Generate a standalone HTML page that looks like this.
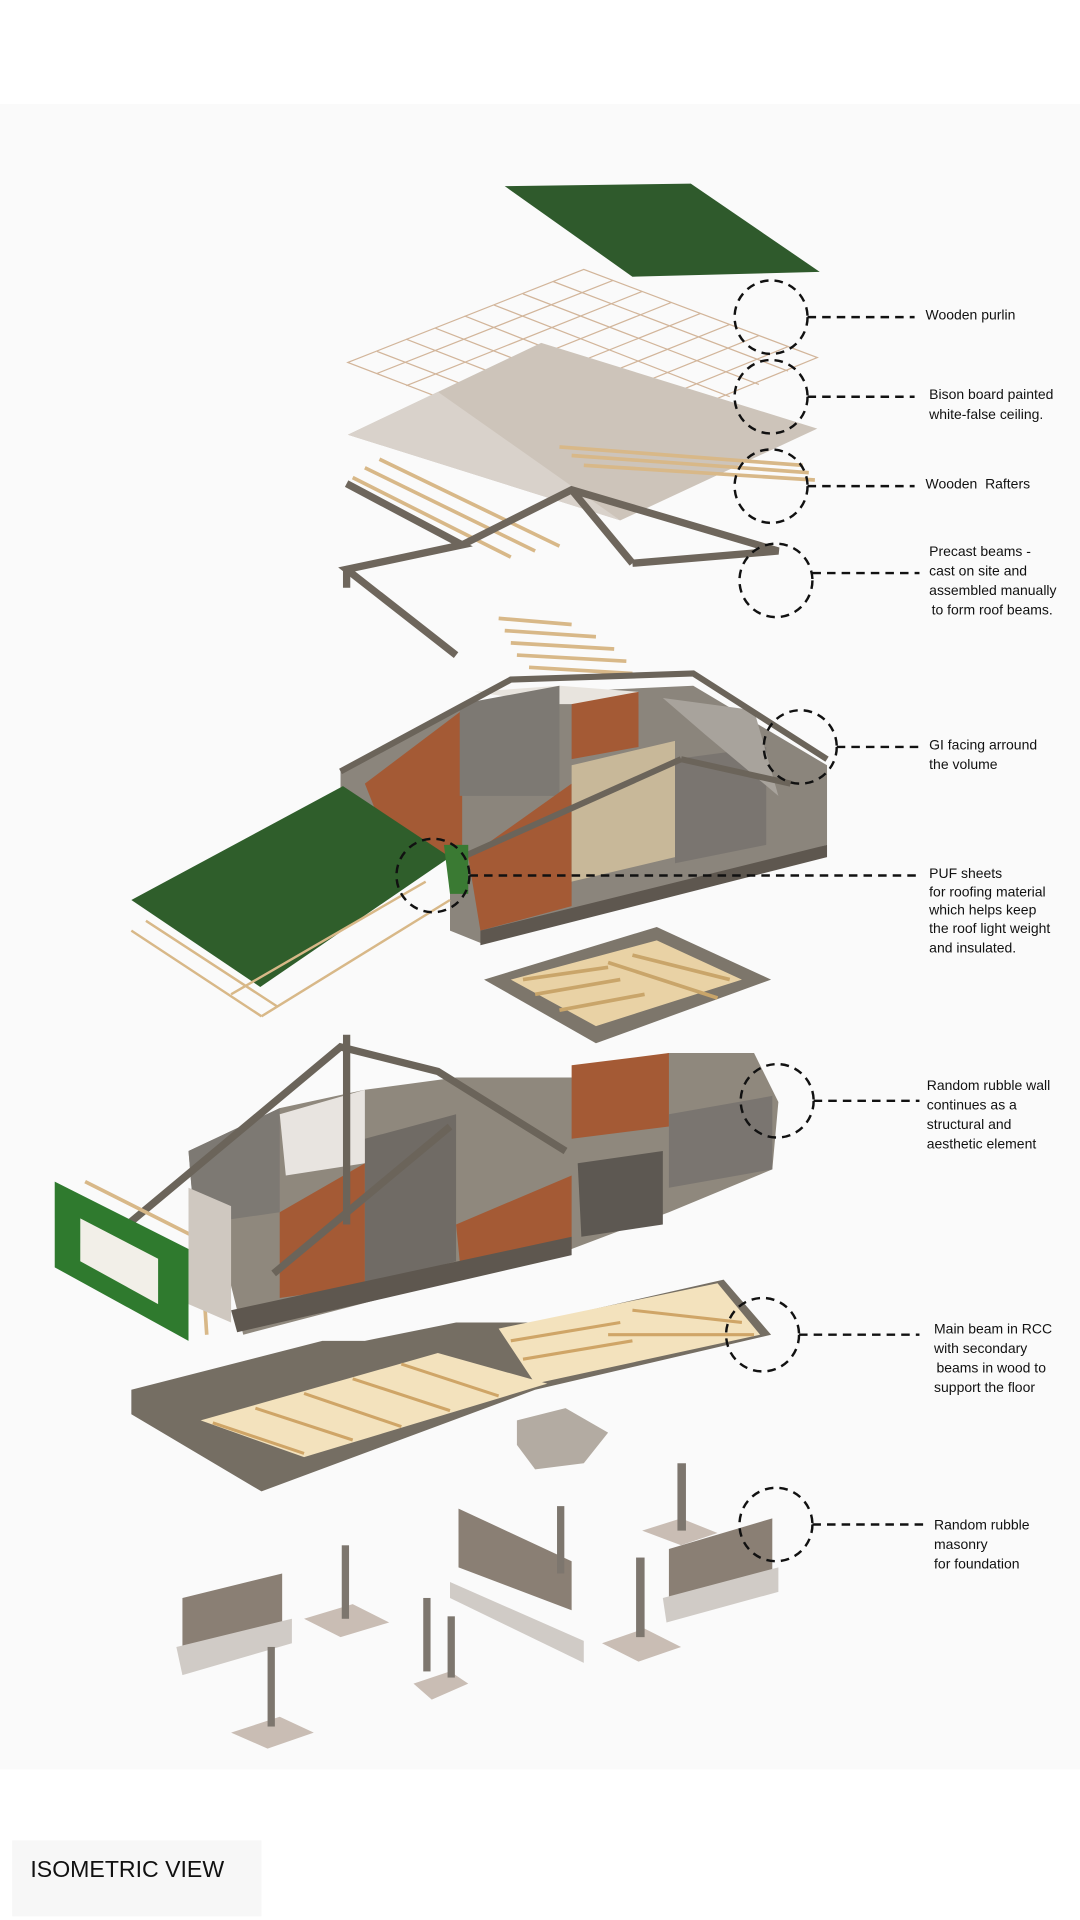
<!DOCTYPE html>
<html><head><meta charset="utf-8"><style>
html,body{margin:0;padding:0;background:#fff}
svg{display:block}
text{font-family:"Liberation Sans",Arial,sans-serif;fill:#111}
</style></head><body>
<svg width="1080" height="1920" viewBox="0 0 888 1568" preserveAspectRatio="none" xmlns="http://www.w3.org/2000/svg">
<rect x="0" y="0" width="888" height="1568" fill="#fff"/>
<rect x="0" y="85" width="888" height="1360" fill="#fafafa"/>
<rect x="10" y="1503" width="205" height="62" fill="#f7f7f7"/>

<!-- green roof -->
<polygon points="415,152 568,150 674,222 520,226" fill="#2f5a2c"/>
<!-- purlin grid -->
<g stroke="#d2b59a" stroke-width="1" fill="none">
<polygon points="286,296 480,220 672,292 480,370"/>
<line x1="310" y1="287" x2="504" y2="361"/><line x1="334" y1="277" x2="528" y2="352"/><line x1="358" y1="268" x2="552" y2="343"/><line x1="382" y1="258" x2="576" y2="334"/><line x1="406" y1="249" x2="600" y2="324"/><line x1="430" y1="240" x2="624" y2="314"/><line x1="455" y1="230" x2="648" y2="303"/>
<line x1="310" y1="305" x2="504" y2="229"/><line x1="334" y1="315" x2="528" y2="238"/><line x1="358" y1="324" x2="552" y2="247"/><line x1="382" y1="333" x2="576" y2="256"/><line x1="406" y1="342" x2="600" y2="265"/><line x1="430" y1="352" x2="624" y2="274"/><line x1="455" y1="361" x2="648" y2="283"/>
</g>
<!-- bison board -->
<polygon points="286,355 445,280 672,350 510,425" fill="#cdc4ba"/>
<polygon points="286,355 360,320 510,425" fill="#d9d2cb"/>
<!-- rafters -->
<g stroke="#d8b888" stroke-width="3">
<line x1="290" y1="390" x2="420" y2="455"/><line x1="300" y1="382" x2="440" y2="450"/><line x1="312" y1="375" x2="460" y2="446"/>
<line x1="460" y1="365" x2="660" y2="380"/><line x1="470" y1="372" x2="665" y2="386"/><line x1="480" y1="380" x2="670" y2="392"/>
<line x1="410" y1="505" x2="470" y2="510"/><line x1="415" y1="515" x2="490" y2="520"/><line x1="420" y1="525" x2="505" y2="530"/><line x1="425" y1="535" x2="515" y2="540"/><line x1="435" y1="545" x2="520" y2="550"/>
</g>
<!-- precast beams -->
<g stroke="#6e665c" stroke-width="6" fill="none">
<polyline points="285,395 380,445 285,465 375,535"/>
<line x1="285" y1="465" x2="285" y2="480"/>
<polyline points="380,445 470,400 640,450 520,460"/>
<line x1="470" y1="400" x2="520" y2="460"/>
</g>
<!-- middle building -->
<polygon points="280,630 375,580 460,565 570,560 680,625 680,690 395,770 370,760 370,700 280,660" fill="#8b857c"/>
<polygon points="390,565 460,560 525,565 525,575 460,575" fill="#e8e4de"/>
<polygon points="300,640 380,580 380,700 320,690" fill="#a45a35"/>
<polygon points="378,575 460,560 460,650 378,650" fill="#7d7973"/>
<polygon points="385,700 470,640 470,740 395,760" fill="#a45a35"/>
<polygon points="470,575 525,565 525,610 470,620" fill="#a45a35"/>
<polygon points="470,625 555,605 555,700 470,720" fill="#c8b899"/>
<polygon points="555,620 630,610 630,690 555,705" fill="#7a7570"/>
<polygon points="545,570 620,580 640,650 580,600" fill="#a8a39c"/>
<polygon points="395,760 680,690 680,700 395,772" fill="#5e574f"/>
<g stroke="#6b645a" stroke-width="5" fill="none">
<polyline points="280,630 420,555 570,550 680,620"/>
<line x1="380" y1="700" x2="560" y2="620"/><line x1="560" y1="620" x2="650" y2="640"/>
</g>
<!-- PUF sheet -->
<polygon points="108,735 282,642 370,700 214,806" fill="#2f5e2b"/>
<polygon points="365,690 385,690 385,730 370,730" fill="#3a7a33"/>
<g stroke="#d8b888" stroke-width="2">
<line x1="108" y1="760" x2="215" y2="830"/><line x1="120" y1="752" x2="228" y2="822"/><line x1="215" y1="830" x2="370" y2="735"/><line x1="190" y1="812" x2="350" y2="720"/>
</g>
<!-- floor plate -->
<polygon points="398,800 540,757 634,800 490,852" fill="#7d766b"/>
<polygon points="420,800 540,768 610,800 490,838" fill="#e9d2a5"/>
<g stroke="#c9a56a" stroke-width="3"><line x1="430" y1="800" x2="500" y2="790"/><line x1="440" y1="812" x2="510" y2="800"/><line x1="460" y1="825" x2="530" y2="812"/><line x1="520" y1="780" x2="600" y2="800"/><line x1="500" y1="786" x2="590" y2="815"/></g>

<!-- lower building -->
<polygon points="155,940 230,905 300,890 375,880 470,880 550,860 620,860 640,900 635,955 550,990 470,1020 200,1090 190,1050 160,1000" fill="#8f887d"/>
<polygon points="155,940 230,905 230,990 160,1000" fill="#7d7973"/>
<polygon points="230,990 300,950 300,1050 230,1060" fill="#a45a35"/>
<polygon points="300,930 375,910 375,1030 300,1050" fill="#706b65"/>
<polygon points="375,1000 470,960 470,1020 378,1030" fill="#a45a35"/>
<polygon points="470,870 550,860 550,920 470,930" fill="#a45a35"/>
<polygon points="550,910 635,895 635,955 550,970" fill="#7a7570"/>
<polygon points="475,950 545,940 545,1000 478,1010" fill="#5d5852"/>
<polygon points="230,910 300,890 300,950 235,960" fill="#e8e4e0"/>
<polygon points="190,1070 470,1010 470,1025 195,1088" fill="#5e574f"/>
<g stroke="#6b645a" stroke-width="6" fill="none">
<polyline points="105,1000 280,855 360,875 465,940"/>
<line x1="285" y1="845" x2="285" y2="1000"/><line x1="225" y1="1040" x2="370" y2="920"/>
</g>
<!-- green wall panel -->
<polygon points="45,965 155,1020 155,1095 45,1035" fill="#2f7a2e"/>
<polygon points="66,995 130,1028 130,1065 66,1030" fill="#f2efe8"/>
<g stroke="#d8b888" stroke-width="3"><line x1="70" y1="965" x2="170" y2="1015"/><line x1="165" y1="1015" x2="170" y2="1090"/></g>
<polygon points="155,970 190,985 190,1080 155,1065" fill="#cfc8c0"/>

<!-- main floor beam plate -->
<polygon points="108,1135 265,1095 300,1095 375,1080 440,1080 595,1045 634,1090 440,1135 215,1218 108,1155" fill="#756e63"/>
<polygon points="165,1160 360,1105 450,1130 250,1190" fill="#f3e2bd"/>
<polygon points="410,1085 590,1048 625,1090 440,1130" fill="#f3e2bd"/>
<g stroke="#cfa567" stroke-width="2.5">
<line x1="175" y1="1162" x2="250" y2="1187"/><line x1="210" y1="1150" x2="290" y2="1176"/><line x1="250" y1="1138" x2="330" y2="1165"/><line x1="290" y1="1126" x2="370" y2="1152"/><line x1="330" y1="1114" x2="410" y2="1140"/>
<line x1="420" y1="1095" x2="510" y2="1080"/><line x1="430" y1="1110" x2="520" y2="1095"/><line x1="520" y1="1070" x2="610" y2="1080"/><line x1="500" y1="1090" x2="620" y2="1090"/>
</g>
<polygon points="425,1160 465,1150 500,1170 480,1195 440,1200 425,1180" fill="#b3aba2"/>

<!-- foundations -->
<g>
<polygon points="150,1305 232,1285 232,1330 150,1350" fill="#8a7f74"/>
<polygon points="145,1345 240,1322 240,1342 150,1368" fill="#d0cbc6"/>
<polygon points="250,1322 290,1310 320,1325 280,1337" fill="#c9bdb4"/><rect x="281" y="1262" width="6" height="60" fill="#7d766e"/>
<polygon points="190,1415 230,1402 258,1415 220,1428" fill="#c9bdb4"/><rect x="220" y="1345" width="6" height="65" fill="#7d766e"/>
<polygon points="340,1375 370,1365 385,1375 355,1388" fill="#c9bdb4"/><rect x="348" y="1305" width="6" height="60" fill="#7d766e"/><rect x="368" y="1320" width="6" height="50" fill="#7d766e"/>
<polygon points="377,1232 470,1275 470,1315 377,1280" fill="#8a7f74"/>
<polygon points="370,1292 480,1340 480,1358 370,1305" fill="#d0cbc6"/><rect x="458" y="1230" width="6" height="55" fill="#7d766e"/>
<polygon points="550,1265 635,1240 635,1285 550,1310" fill="#8a7f74"/>
<polygon points="545,1305 640,1280 640,1300 548,1325" fill="#d0cbc6"/>
<polygon points="528,1250 560,1240 590,1252 560,1262" fill="#c9bdb4"/><rect x="557" y="1195" width="7" height="55" fill="#7d766e"/>
<polygon points="495,1342 530,1330 560,1345 525,1357" fill="#c9bdb4"/><rect x="523" y="1272" width="7" height="65" fill="#7d766e"/>
</g>

<!-- callouts -->
<g fill="none" stroke="#111" stroke-width="2" stroke-dasharray="7,5">
<circle cx="634" cy="259" r="30"/><line x1="664" y1="259" x2="752" y2="259"/>
<circle cx="634" cy="324" r="30"/><line x1="664" y1="324" x2="752" y2="324"/>
<circle cx="634" cy="397" r="30"/><line x1="664" y1="397" x2="752" y2="397"/>
<circle cx="638" cy="474" r="30"/><line x1="668" y1="468" x2="756" y2="468"/>
<circle cx="658" cy="610" r="30"/><line x1="688" y1="610" x2="756" y2="610"/>
<circle cx="356" cy="715" r="30"/><line x1="386" y1="715" x2="756" y2="715"/>
<circle cx="639" cy="899" r="30"/><line x1="669" y1="899" x2="756" y2="899"/>
<circle cx="627" cy="1090" r="30"/><line x1="657" y1="1090" x2="756" y2="1090"/>
<circle cx="638" cy="1245" r="30"/><line x1="668" y1="1245" x2="760" y2="1245"/>
</g>
<g font-size="11.5">
<text x="761" y="261">Wooden purlin</text>
<text x="764" y="326">Bison board painted</text><text x="764" y="342">white-false ceiling.</text>
<text x="761" y="399">Wooden&#160; Rafters</text>
<text x="764" y="454">Precast beams -</text><text x="764" y="470">cast on site and</text><text x="764" y="486">assembled manually</text><text x="766" y="502">to form roof beams.</text>
<text x="764" y="612">GI facing arround</text><text x="764" y="628">the volume</text>
<text x="764" y="717">PUF sheets</text><text x="764" y="732">for roofing material</text><text x="764" y="747">which helps keep</text><text x="764" y="762">the roof light weight</text><text x="764" y="778">and insulated.</text>
<text x="762" y="890">Random rubble wall</text><text x="762" y="906">continues as a</text><text x="762" y="922">structural and</text><text x="762" y="938">aesthetic element</text>
<text x="768" y="1089">Main beam in RCC</text><text x="768" y="1105">with secondary</text><text x="770" y="1121">beams in wood to</text><text x="768" y="1137">support the floor</text>
<text x="768" y="1249">Random rubble</text><text x="768" y="1265">masonry</text><text x="768" y="1281">for foundation</text>
</g>
<text x="25" y="1533" font-size="19">ISOMETRIC VIEW</text>
</svg>
</body></html>
